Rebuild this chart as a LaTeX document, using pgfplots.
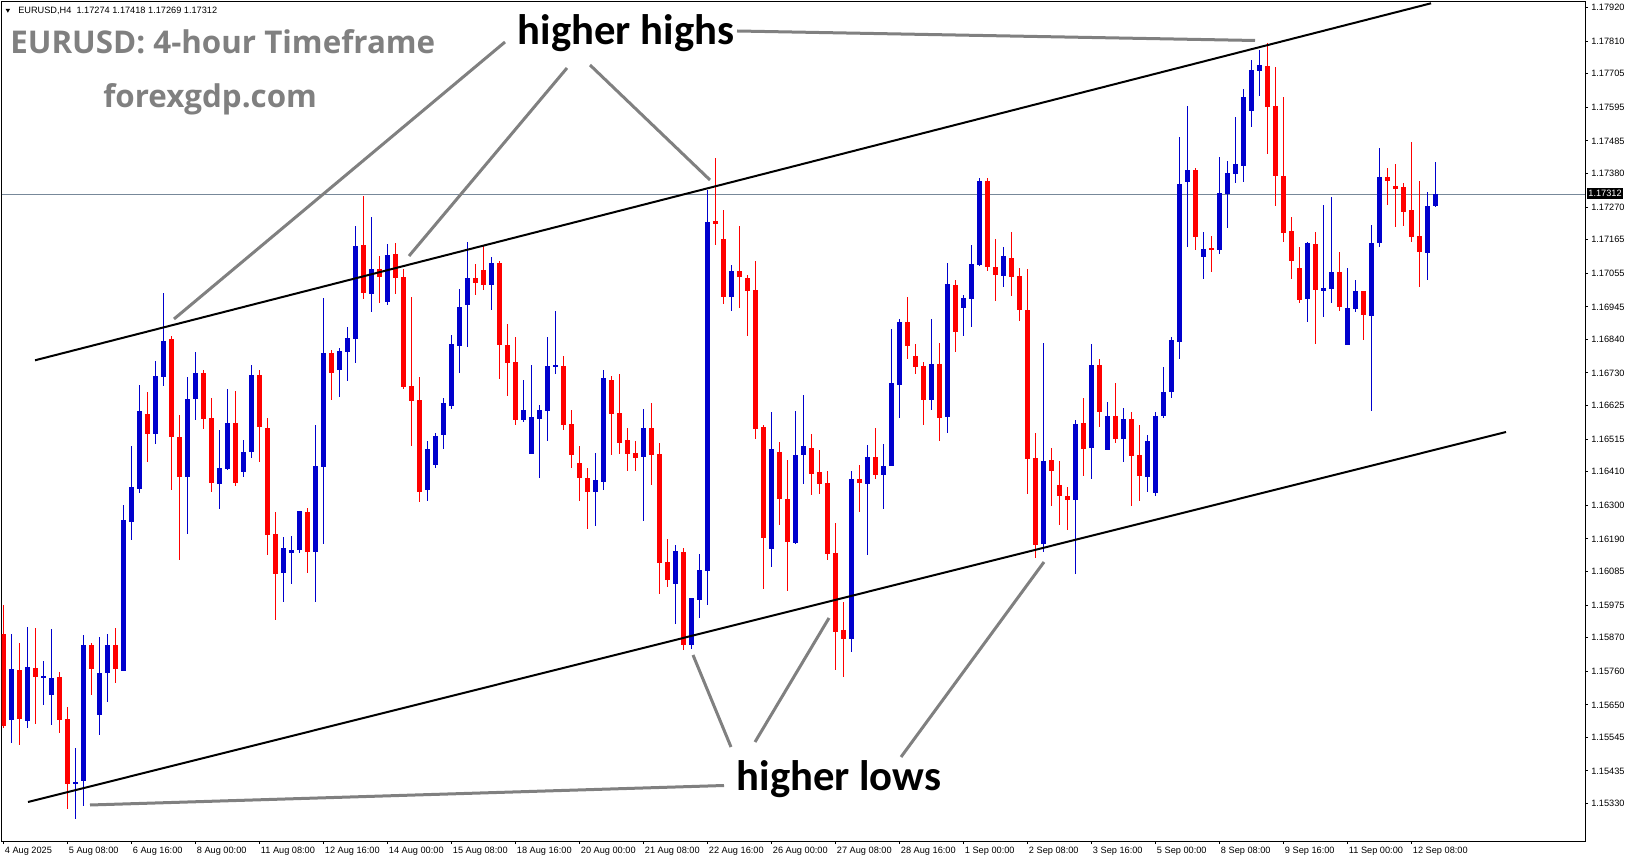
\documentclass[border=0pt]{standalone}
\usepackage{pgfplots}
\pgfplotsset{compat=1.18}
\usepackage{pgfplotstable}
\usepackage{fontspec}
\setmainfont{Liberation Sans}
\newfontfamily\titlefont{Open Sans}
\newfontfamily\notefont{Carlito}

\definecolor{bullc}{RGB}{0,0,205}
\definecolor{bearc}{RGB}{255,0,0}
\definecolor{annot}{RGB}{128,128,128}
\definecolor{pricelvl}{RGB}{119,136,153}

% EURUSD H4 candles, x = bar index from 4 Aug 2025 00:00
\pgfplotstableread{
x o h l c
1 1.15601 1.15881 1.15527 1.15766
3 1.15597 1.15903 1.15574 1.15772
5 1.15740 1.15794 1.15651 1.15744
6 1.15683 1.15897 1.15584 1.15740
9 1.15392 1.15509 1.15278 1.15398
10 1.15402 1.15877 1.15322 1.15846
12 1.15619 1.15871 1.15552 1.15756
13 1.15754 1.15881 1.15660 1.15846
15 1.15760 1.16301 1.15760 1.16251
16 1.16248 1.16493 1.16187 1.16359
17 1.16353 1.16693 1.16341 1.16606
19 1.16531 1.16770 1.16501 1.16721
20 1.16719 1.16991 1.16688 1.16834
23 1.16393 1.16718 1.16206 1.16648
24 1.16645 1.16798 1.16577 1.16730
27 1.16370 1.16545 1.16287 1.16421
28 1.16418 1.16678 1.16415 1.16567
30 1.16409 1.16512 1.16393 1.16476
31 1.16474 1.16759 1.16456 1.16724
35 1.16080 1.16196 1.15986 1.16161
36 1.16145 1.16200 1.16044 1.16154
37 1.16152 1.16282 1.16145 1.16279
39 1.16149 1.16561 1.15986 1.16427
40 1.16425 1.16974 1.16175 1.16798
42 1.16741 1.16811 1.16653 1.16802
43 1.16799 1.16880 1.16705 1.16844
44 1.16842 1.17208 1.16764 1.17143
46 1.16988 1.17238 1.16929 1.17068
48 1.16962 1.17150 1.16952 1.17114
53 1.16350 1.16510 1.16314 1.16484
54 1.16432 1.16536 1.16422 1.16525
55 1.16529 1.16649 1.16484 1.16633
56 1.16624 1.16854 1.16614 1.16825
57 1.16819 1.17003 1.16731 1.16945
58 1.16952 1.17156 1.16816 1.17039
61 1.17017 1.17108 1.16936 1.17089
65 1.16578 1.16708 1.16570 1.16611
66 1.16467 1.16757 1.16467 1.16588
67 1.16581 1.16627 1.16389 1.16611
68 1.16607 1.16848 1.16510 1.16754
69 1.16751 1.16933 1.16728 1.16757
74 1.16344 1.16471 1.16233 1.16382
75 1.16376 1.16741 1.16350 1.16714
80 1.16458 1.16614 1.16249 1.16551
84 1.16044 1.16171 1.15914 1.16152
86 1.15846 1.15999 1.15833 1.15999
87 1.15992 1.16142 1.15934 1.16090
88 1.16087 1.17326 1.15976 1.17222
91 1.16978 1.17082 1.16933 1.17062
96 1.16156 1.16603 1.16100 1.16483
99 1.16178 1.16606 1.16175 1.16463
100 1.16464 1.16658 1.16370 1.16492
106 1.15865 1.16411 1.15823 1.16385
108 1.16370 1.16496 1.16139 1.16457
110 1.16399 1.16499 1.16288 1.16427
111 1.16428 1.16873 1.16428 1.16697
112 1.16692 1.16906 1.16585 1.16896
116 1.16643 1.16906 1.16611 1.16759
118 1.16588 1.17091 1.16536 1.17020
120 1.16943 1.16984 1.16851 1.16974
121 1.16972 1.17147 1.16881 1.17085
122 1.17082 1.17365 1.17078 1.17355
125 1.17047 1.17140 1.17011 1.17111
130 1.16175 1.16828 1.16149 1.16444
134 1.16318 1.16580 1.16079 1.16567
136 1.16487 1.16824 1.16386 1.16756
138 1.16481 1.16636 1.16481 1.16590
140 1.16516 1.16616 1.16441 1.16580
143 1.16393 1.16528 1.16344 1.16509
144 1.16340 1.16603 1.16330 1.16590
145 1.16590 1.16750 1.16584 1.16671
146 1.16669 1.16847 1.16650 1.16837
147 1.16832 1.17498 1.16776 1.17345
148 1.17352 1.17599 1.17141 1.17391
150 1.17108 1.17189 1.17037 1.17134
152 1.17130 1.17433 1.17118 1.17316
153 1.17313 1.17420 1.17203 1.17381
154 1.17379 1.17563 1.17349 1.17410
155 1.17405 1.17657 1.17352 1.17628
156 1.17584 1.17749 1.17531 1.17716
157 1.17714 1.17781 1.17632 1.17733
163 1.16972 1.17156 1.16897 1.17153
165 1.16997 1.17277 1.16913 1.17007
166 1.17004 1.17303 1.16959 1.17059
168 1.16822 1.17072 1.16822 1.16942
169 1.16939 1.17033 1.16929 1.16997
171 1.16916 1.17212 1.16606 1.17153
172 1.17154 1.17462 1.17141 1.17368
178 1.17121 1.17319 1.17034 1.17273
179 1.17274 1.17418 1.17269 1.17312
}\bulltab

\pgfplotstableread{
x o h l c
0 1.15881 1.15977 1.15578 1.15581
2 1.15763 1.15852 1.15521 1.15603
4 1.15772 1.15900 1.15590 1.15742
7 1.15740 1.15759 1.15561 1.15603
8 1.15605 1.15643 1.15312 1.15392
11 1.15846 1.15852 1.15682 1.15767
14 1.15846 1.15900 1.15720 1.15767
18 1.16597 1.16667 1.16439 1.16531
21 1.16841 1.16853 1.16350 1.16521
22 1.16523 1.16593 1.16122 1.16393
25 1.16730 1.16740 1.16549 1.16581
26 1.16584 1.16649 1.16344 1.16373
29 1.16567 1.16671 1.16363 1.16373
32 1.16724 1.16740 1.16441 1.16555
33 1.16551 1.16584 1.16139 1.16204
34 1.16206 1.16278 1.15927 1.16077
38 1.16278 1.16291 1.16080 1.16149
41 1.16798 1.16805 1.16643 1.16731
45 1.17147 1.17306 1.16972 1.16991
47 1.17068 1.17111 1.16959 1.17043
49 1.17118 1.17153 1.16988 1.17040
50 1.17043 1.17069 1.16679 1.16685
51 1.16689 1.16977 1.16493 1.16640
52 1.16642 1.16717 1.16311 1.16344
59 1.17039 1.17086 1.16985 1.17024
60 1.17068 1.17147 1.17001 1.17017
62 1.17086 1.17095 1.16711 1.16819
63 1.16821 1.16890 1.16656 1.16764
64 1.16767 1.16848 1.16562 1.16578
70 1.16754 1.16786 1.16546 1.16562
71 1.16564 1.16610 1.16422 1.16465
72 1.16437 1.16492 1.16314 1.16389
73 1.16388 1.16423 1.16223 1.16344
76 1.16708 1.16721 1.16464 1.16597
77 1.16601 1.16727 1.16467 1.16503
78 1.16512 1.16552 1.16412 1.16467
79 1.16471 1.16510 1.16412 1.16454
81 1.16551 1.16633 1.16367 1.16464
82 1.16467 1.16503 1.16012 1.16113
83 1.16116 1.16191 1.16035 1.16057
85 1.16149 1.16162 1.15829 1.15846
89 1.17226 1.17431 1.17148 1.17216
90 1.17167 1.17261 1.16956 1.16978
92 1.17062 1.17209 1.16942 1.17043
93 1.17040 1.17050 1.16851 1.16998
94 1.17001 1.17095 1.16514 1.16549
95 1.16555 1.16562 1.16028 1.16194
97 1.16476 1.16506 1.16236 1.16321
98 1.16323 1.16447 1.16021 1.16181
101 1.16489 1.16532 1.16334 1.16402
102 1.16408 1.16479 1.16337 1.16370
103 1.16372 1.16411 1.16122 1.16142
104 1.16144 1.16242 1.15764 1.15888
105 1.15894 1.15985 1.15741 1.15865
107 1.16385 1.16431 1.16279 1.16373
109 1.16457 1.16551 1.16386 1.16399
113 1.16896 1.16977 1.16776 1.16819
114 1.16785 1.16824 1.16728 1.16751
115 1.16753 1.16766 1.16562 1.16643
117 1.16759 1.16828 1.16510 1.16585
119 1.17016 1.17033 1.16799 1.16864
123 1.17355 1.17365 1.17062 1.17075
124 1.17077 1.17166 1.16965 1.17050
126 1.17104 1.17189 1.16981 1.17043
127 1.17046 1.17072 1.16900 1.16936
128 1.16935 1.17068 1.16337 1.16451
129 1.16453 1.16535 1.16129 1.16171
131 1.16447 1.16486 1.16298 1.16412
132 1.16366 1.16444 1.16236 1.16331
133 1.16330 1.16359 1.16220 1.16318
135 1.16567 1.16649 1.16396 1.16484
137 1.16756 1.16776 1.16555 1.16604
139 1.16590 1.16697 1.16503 1.16516
141 1.16580 1.16603 1.16298 1.16460
142 1.16463 1.16561 1.16314 1.16396
149 1.17391 1.17397 1.17131 1.17174
151 1.17138 1.17177 1.17060 1.17131
158 1.17730 1.17803 1.17442 1.17597
159 1.17599 1.17726 1.17274 1.17372
160 1.17374 1.17628 1.17157 1.17187
161 1.17192 1.17238 1.17037 1.17095
162 1.17072 1.17140 1.16959 1.16968
164 1.17150 1.17189 1.16825 1.17001
167 1.17059 1.17124 1.16933 1.16946
170 1.16997 1.16997 1.16838 1.16920
173 1.17368 1.17397 1.17278 1.17356
174 1.17339 1.17411 1.17206 1.17330
175 1.17335 1.17349 1.17209 1.17255
176 1.17260 1.17482 1.17157 1.17174
177 1.17176 1.17355 1.17011 1.17125
}\beartab

\begin{document}
\begin{tikzpicture}
\path[use as bounding box] (0,0) rectangle (1223.25pt,645.75pt);
\begin{axis}[
  at={(1.275pt,15pt)}, anchor=south west,
  width=1187.5pt, height=629.5pt, scale only axis,
  xmin=-0.2, xmax=197.71, ymin=1.152072, ymax=1.179382,
  axis line style={black, line width=0.75pt},
  tick align=outside, major tick length=2.25pt,
  tick style={black, line width=0.75pt},
  xtick pos=left, ytick pos=right,
  xticklabel pos=left, yticklabel pos=right,
  xtick={0,8,...,176},
  xticklabels={4 Aug 2025, 5 Aug 08:00, 6 Aug 16:00, 8 Aug 00:00, 11 Aug 08:00, 12 Aug 16:00, 14 Aug 00:00, 15 Aug 08:00, 18 Aug 16:00, 20 Aug 00:00, 21 Aug 08:00, 22 Aug 16:00, 26 Aug 00:00, 27 Aug 08:00, 28 Aug 16:00, 1 Sep 00:00, 2 Sep 08:00, 3 Sep 16:00, 5 Sep 00:00, 8 Sep 08:00, 9 Sep 16:00, 11 Sep 00:00, 12 Sep 08:00},
  ytick={1.17920,1.17810,1.17705,1.17595,1.17485,1.17380,1.17270,1.17165,1.17055,1.16945,1.16840,1.16730,1.16625,1.16515,1.16410,1.16300,1.16190,1.16085,1.15975,1.15870,1.15760,1.15650,1.15545,1.15435,1.15330},
  yticklabels={1.17920,1.17810,1.17705,1.17595,1.17485,1.17380,1.17270,1.17165,1.17055,1.16945,1.16840,1.16730,1.16625,1.16515,1.16410,1.16300,1.16190,1.16085,1.15975,1.15870,1.15760,1.15650,1.15545,1.15435,1.15330},
  yticklabel style={font=\fontsize{6.9}{8}\selectfont, anchor=west, inner sep=0pt, xshift=2.25pt},
  xticklabel style={font=\fontsize{6.9}{8}\selectfont, anchor=north west, inner sep=0pt, xshift=1pt, yshift=-2pt},
  candle/.style={draw=none, mark=none, error bars/y dir=both, error bars/y explicit, error bars/error mark=none},
]
\addplot[pricelvl, line width=0.75pt] coordinates {(-0.2,1.17312) (197.71,1.17312)};
% wicks
\addplot[candle, error bars/error bar style={draw=bullc, line width=0.75pt}]
  table[x=x, y expr={(\thisrow{h}+\thisrow{l})/2}, y error expr={(\thisrow{h}-\thisrow{l})/2}] {\bulltab};
\addplot[candle, error bars/error bar style={draw=bearc, line width=0.75pt}]
  table[x=x, y expr={(\thisrow{h}+\thisrow{l})/2}, y error expr={(\thisrow{h}-\thisrow{l})/2}] {\beartab};
% bodies
\addplot[candle, error bars/error bar style={draw=bullc, line width=3.75pt}]
  table[x=x, y expr={(\thisrow{o}+\thisrow{c})/2}, y error expr={max(abs(\thisrow{c}-\thisrow{o})/2,0.000016)}] {\bulltab};
\addplot[candle, error bars/error bar style={draw=bearc, line width=3.75pt}]
  table[x=x, y expr={(\thisrow{o}+\thisrow{c})/2}, y error expr={max(abs(\thisrow{c}-\thisrow{o})/2,0.000016)}] {\beartab};
\end{axis}

% annotations in screen pixels (origin top left)
\begin{scope}[x=0.75pt, y=-0.75pt, yshift=645.75pt]
  % channel
  \draw[black, line width=1.5pt] (35,360.3) -- (1431,3.3);
  \draw[black, line width=1.5pt] (28,802) -- (1506,432);
  % pointer lines
  \begin{scope}[annot, line width=2.25pt]
    \draw (505,42) -- (174,319);
    \draw (567,68) -- (409,256);
    \draw (590,65) -- (710,180);
    \draw (737,31) -- (1255,40.5);
    \draw (724,785.5) -- (90,805);
    \draw (731,747) -- (693,655);
    \draw (755,742) -- (829,618);
    \draw (901,757) -- (1044,562);
  \end{scope}
  \node[anchor=base, inner sep=0pt, font=\notefont\bfseries\fontsize{32}{38}\selectfont] at (626,44.5) {higher highs};
  \node[anchor=base, inner sep=0pt, font=\notefont\bfseries\fontsize{32}{38}\selectfont] at (839,790) {higher lows};
  \node[anchor=base west, inner sep=0pt, text=annot, font=\titlefont\bfseries\fontsize{23.5}{28}\selectfont] at (10,54) {EURUSD: 4-hour Timeframe};
  \node[anchor=base west, inner sep=0pt, text=annot, font=\titlefont\bfseries\fontsize{23.5}{28}\selectfont] at (103,108) {forexgdp.com};
  % header
  \fill[black] (5.7,9) -- (10,9) -- (7.85,12.7) -- cycle;
  \node[anchor=base west, inner sep=0pt, font=\fontsize{6.9}{8}\selectfont] at (18,13.3) {EURUSD,H4\ \ 1.17274 1.17418 1.17269 1.17312};
  % current price tag
  \node[anchor=west, fill=black, text=white, inner xsep=1.2pt, inner ysep=1.5pt, font=\fontsize{6.9}{8}\selectfont] at (1586.5,193.7) {1.17312};
\end{scope}
\end{tikzpicture}
\end{document}
